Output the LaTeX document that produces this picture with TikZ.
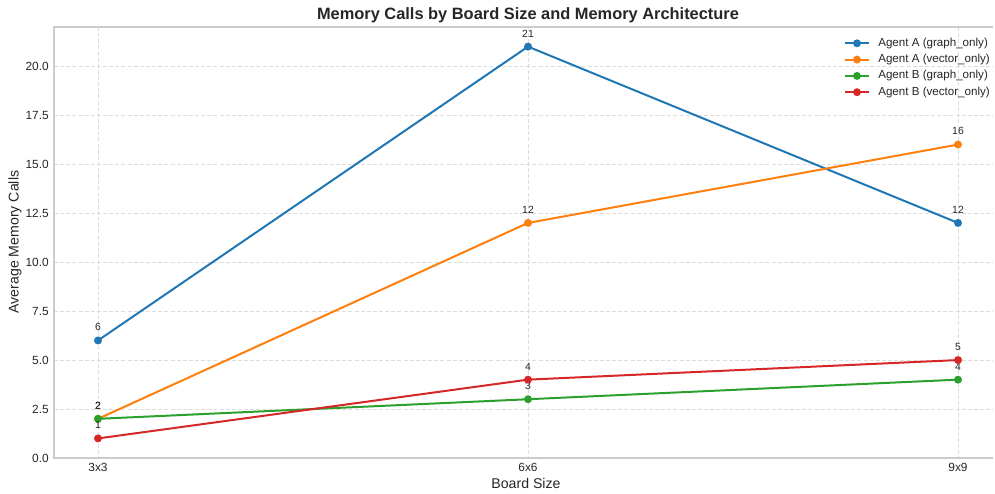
\documentclass[tikz,border=0pt]{standalone}
\usepackage{fontspec}
\setmainfont{Liberation Sans}
\definecolor{cA}{HTML}{1F77B4}
\definecolor{cB}{HTML}{FF7F0E}
\definecolor{cC}{HTML}{2CA02C}
\definecolor{cD}{HTML}{D62728}
\definecolor{gridc}{HTML}{DDDDDD}
\definecolor{spinec}{HTML}{CCCCCC}
\definecolor{txt}{HTML}{262626}
\begin{document}
\begin{tikzpicture}[x=0.75pt,y=-0.75pt,
  gridline/.style={gridc,line width=0.6pt,dash pattern=on 3pt off 1.6pt},
  series/.style={line width=1.5pt,line join=round},
  dot/.style={circle,fill=#1,inner sep=0pt,minimum size=6pt},
  vlab/.style={font=\fontsize{7.8}{9}\selectfont,text=txt,inner sep=0pt},
  tlab/.style={font=\fontsize{8.9}{10}\selectfont,text=txt,inner sep=0pt},
  leg/.style={font=\fontsize{8.7}{10}\selectfont,text=txt,inner sep=0pt,anchor=west}]
\useasboundingbox (0,0) rectangle (995,493);
% grid
\foreach \v in {0,2.5,...,20} {
  \draw[gridline] (54,{458-19.59*\v}) -- (993,{458-19.59*\v});
}
\foreach \xx in {98,528,958} {
  \draw[gridline] (\xx,27) -- (\xx,458);
}
% spines
\draw[spinec,line width=0.8pt] (993,27) -- (54,27) -- (54,458) -- (993,458);
% y tick labels
\foreach \v/\s in {0/0.0,2.5/2.5,5/5.0,7.5/7.5,10/10.0,12.5/12.5,15/15.0,17.5/17.5,20/20.0}{
  \node[tlab,anchor=east] at (49,{458-19.59*\v}) {\s};
}
% x tick labels
\node[tlab,anchor=north] (t1) at (98,463) {3x3};
\node[tlab,anchor=north] (t2) at (528,463) {6x6};
\node[tlab,anchor=north] (t3) at (958,463) {9x9};
% axis labels
\node[font=\fontsize{10.6}{12}\selectfont,text=txt,inner sep=0pt] (xl) at (526,483) {Board Size};
\node[font=\fontsize{10.6}{12}\selectfont,text=txt,inner sep=0pt,rotate=90] (yl) at (15,242) {Average Memory Calls};
% title
\node[font=\fontsize{12.3}{14}\selectfont\bfseries,text=txt,inner sep=0pt] (title) at (528,15) {Memory Calls by Board Size and Memory Architecture};
% data points
\foreach \name/\col/\a/\b/\c in {A/cA/6/21/12, B/cB/2/12/16, C/cC/2/3/4, D/cD/1/4/5}{
  \coordinate (\name1) at (98,{458-19.59*\a});
  \coordinate (\name2) at (528,{458-19.59*\b});
  \coordinate (\name3) at (958,{458-19.59*\c});
}
\draw[series,cA] (A1) -- (A2) -- (A3);
\draw[series,cB] (B1) -- (B2) -- (B3);
\draw[series,cC] (C1) -- (C2) -- (C3);
\draw[series,cD] (D1) -- (D2) -- (D3);
\foreach \name/\col/\a/\b/\c in {A/cA/6/21/12, B/cB/2/12/16, C/cC/2/3/4, D/cD/1/4/5}{
  \node[dot=\col] (\name p1) at (\name1) {};
  \node[dot=\col] (\name p2) at (\name2) {};
  \node[dot=\col] (\name p3) at (\name3) {};
  \node[vlab] (\name l1) at ([yshift=9.9pt]\name1) {\a};
  \node[vlab] (\name l2) at ([yshift=9.9pt]\name2) {\b};
  \node[vlab] (\name l3) at ([yshift=9.9pt]\name3) {\c};
}
% legend
\foreach \i/\col/\t in {0/cA/{Agent A (graph\_only)},1/cB/{Agent A (vector\_only)},2/cC/{Agent B (graph\_only)},3/cD/{Agent B (vector\_only)}}{
  \coordinate (ls\i) at (845,{43.3+16.3*\i});
  \coordinate (le\i) at (869,{43.3+16.3*\i});
  \draw[series,\col] (ls\i) -- (le\i);
  \node[dot=\col] (lm\i) at (857,{43.3+16.3*\i}) {};
  \node[leg] (lt\i) at (878,{43.3+16.3*\i}) {\t};
}
\end{tikzpicture}
\end{document}
